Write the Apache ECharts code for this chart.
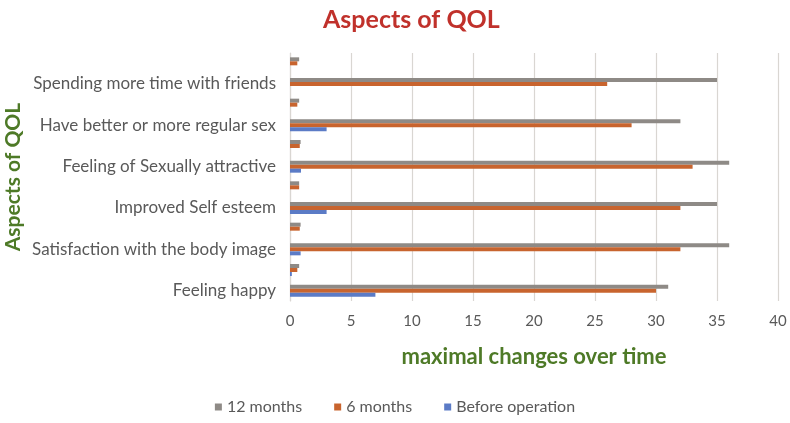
<!DOCTYPE html>
<html>
<head>
<meta charset="utf-8">
<script src="https://cdn.jsdelivr.net/npm/echarts@6/dist/echarts.min.js"></script>
<style>html,body{margin:0;padding:0;background:#fff}#c{width:790px;height:423px}</style>
</head>
<body>
<div id="c"></div>
<script>
// categories listed bottom to top
var categories = ["Feeling happy", "", "Satisfaction with the body image", "", "Improved Self esteem", "", "Feeling of Sexually attractive", "", "Have better or more regular sex", "", "Spending more time with friends", ""];
var seriesNames = ["12 months", "6 months", "Before operation"];
var months12 = [31, 0.75, 36, 0.87, 35, 0.75, 36, 0.87, 32, 0.75, 35, 0.75];
var months6 = [30, 0.6, 32, 0.8, 32, 0.75, 33, 0.8, 28, 0.6, 26, 0.6];
var beforeOp = [7, 0.15, 0.87, 0, 3, 0, 0.9, 0, 3, 0, 0, 0];
var xTicks = [0, 5, 10, 15, 20, 25, 30, 35, 40];

var FONT = 'Lato, "Open Sans", sans-serif';
var colors = ['#8e8a86', '#c8642e', '#5b7bc6'];
var chart = echarts.init(document.getElementById('c'));
function mk(name, data, color) {
  return {
    name: name, type: 'bar', data: data, barWidth: 4, barGap: '0%',
    itemStyle: { color: color }
  };
}
chart.setOption({
  animation: false,
  textStyle: { fontFamily: FONT },
  title: {
    text: 'Aspects of QOL', left: 318, top: 2,
    textStyle: { color: '#c0312b', fontSize: 25, fontWeight: 'bold', fontFamily: FONT }
  },
  legend: {
    bottom: 3, left: 'center', icon: 'rect', itemWidth: 7, itemHeight: 7, itemGap: 32,
    data: seriesNames,
    textStyle: { color: '#595959', fontSize: 16, fontFamily: FONT }
  },
  grid: { left: 290, right: 12, top: 53, bottom: 122, containLabel: false, outerBoundsMode: 'none' },
  xAxis: {
    type: 'value', min: xTicks[0], max: xTicks[xTicks.length - 1], interval: 5,
    name: 'maximal changes over time', nameLocation: 'middle', nameGap: 45,
    nameTextStyle: { color: '#4e7a27', fontSize: 22, fontWeight: 'bold', fontFamily: FONT },
    axisLine: { show: false }, axisTick: { show: false },
    axisLabel: { color: '#595959', fontSize: 15, margin: 13 },
    splitLine: { show: true, lineStyle: { color: '#d9d6d2', width: 1.2 } }
  },
  yAxis: {
    type: 'category', data: categories,
    name: 'Aspects of QOL', nameLocation: 'middle', nameGap: 266, nameRotate: 90,
    nameMoveOverlap: false,
    nameTextStyle: { color: '#4e7a27', fontSize: 21, fontWeight: 'bold', fontFamily: FONT },
    axisLine: { show: true, lineStyle: { color: '#d9d6d2', width: 1.2 } },
    axisTick: { show: false },
    axisLabel: { color: '#595959', fontSize: 17, margin: 14, interval: 0 }
  },
  series: [
    mk(seriesNames[0], months12, colors[0]),
    mk(seriesNames[1], months6, colors[1]),
    mk(seriesNames[2], beforeOp, colors[2])
  ]
});
</script>
</body>
</html>
